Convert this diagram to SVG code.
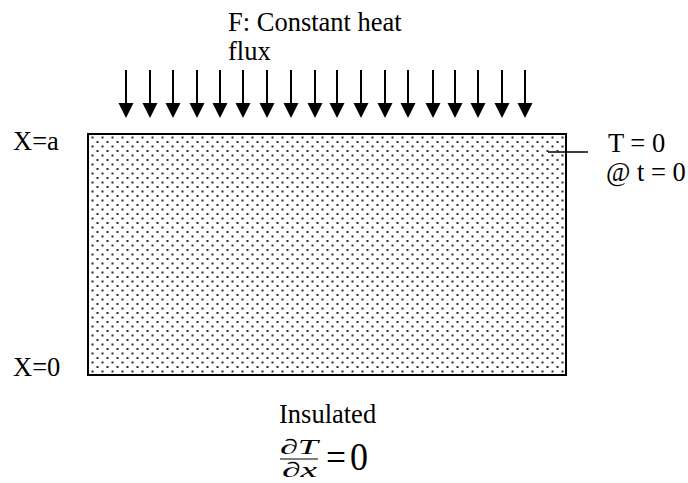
<svg xmlns="http://www.w3.org/2000/svg" width="688" height="483" viewBox="0 0 688 483">
<style>
  text { font-family: "Liberation Serif", "Times New Roman", serif; fill: #000; }
  .lbl { font-size: 26.5px; }
  .shaft { stroke: #000; stroke-width: 2; }
  .head { fill: #000; }
</style>
<defs>
  <pattern id="stipple" x="0" y="0" width="10" height="9" patternUnits="userSpaceOnUse">
    <rect x="1.5" y="1.5" width="2" height="2" fill="#2a2a2a"/>
    <rect x="6.5" y="6" width="2" height="2" fill="#2a2a2a"/>
  </pattern>
  <g id="arr">
    <line class="shaft" x1="0" y1="70" x2="0" y2="104"/>
    <polygon class="head" points="-7.5,103 7.5,103 0,118"/>
  </g>
</defs>
<rect width="688" height="483" fill="#fff"/>

<g id="flux-label">
  <text class="lbl" x="228" y="31">F: Constant heat</text>
  <text class="lbl" x="228" y="60">flux</text>
</g>

<g id="connectors">
  <use href="#arr" x="126"/>
  <use href="#arr" x="150"/>
  <use href="#arr" x="173"/>
  <use href="#arr" x="197"/>
  <use href="#arr" x="220"/>
  <use href="#arr" x="243"/>
  <use href="#arr" x="267"/>
  <use href="#arr" x="291"/>
  <use href="#arr" x="315"/>
  <use href="#arr" x="337"/>
  <use href="#arr" x="361"/>
  <use href="#arr" x="385"/>
  <use href="#arr" x="408"/>
  <use href="#arr" x="433"/>
  <use href="#arr" x="455"/>
  <use href="#arr" x="478"/>
  <use href="#arr" x="502"/>
  <use href="#arr" x="525"/>
  <line x1="548" y1="152" x2="588" y2="152" stroke="#000" stroke-width="1.5"/>
</g>

<g id="slab">
  <rect x="88" y="134" width="478" height="241" fill="url(#stipple)" stroke="#000" stroke-width="2"/>
</g>

<g id="x-labels">
  <text class="lbl" x="13" y="150">X=a</text>
  <text class="lbl" x="13" y="376">X=0</text>
</g>

<g id="initial-condition">
  <text class="lbl" x="608" y="152">T = 0</text>
  <text class="lbl" x="606" y="181">@ t = 0</text>
</g>

<g id="bottom-bc">
  <text class="lbl" x="279" y="423">Insulated</text>
  <text x="280" y="454" font-size="21" font-style="italic" textLength="38" lengthAdjust="spacingAndGlyphs">∂T</text>
  <line x1="280" y1="459" x2="318" y2="459" stroke="#000" stroke-width="1.2"/>
  <text x="282" y="477" font-size="21" font-style="italic" textLength="35" lengthAdjust="spacingAndGlyphs">∂x</text>
  <text x="326" y="470" font-size="38" textLength="20" lengthAdjust="spacingAndGlyphs">=</text>
  <text x="350" y="470" font-size="40" textLength="18" lengthAdjust="spacingAndGlyphs">0</text>
</g>
</svg>
